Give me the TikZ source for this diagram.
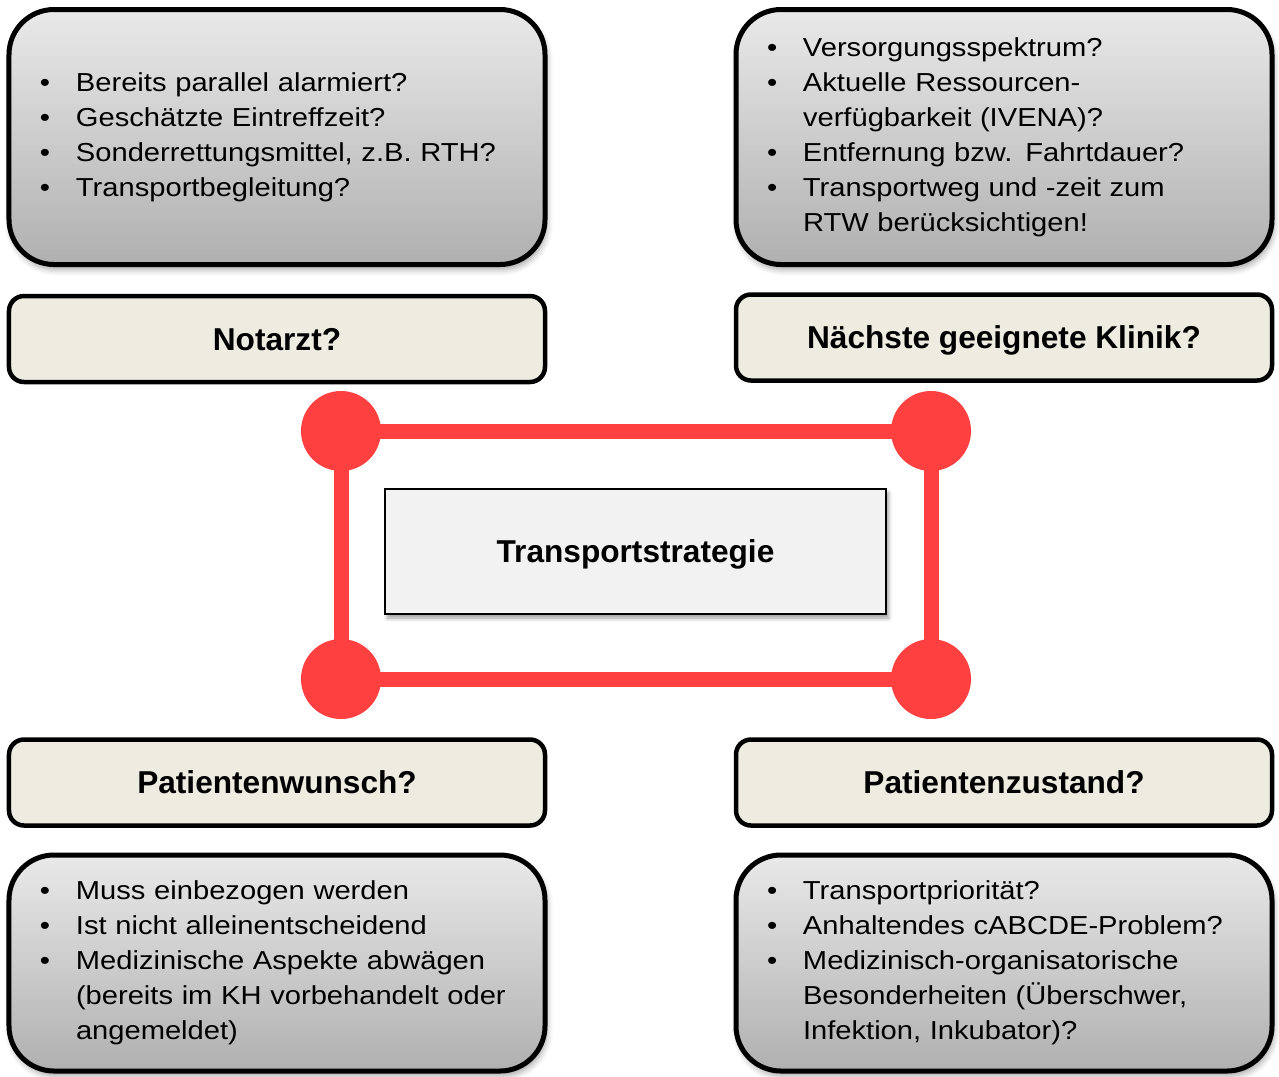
\documentclass[tikz,border=0pt]{standalone}
\usepackage{fontspec}
\setmainfont{Liberation Sans}
\newfontfamily\listfont{Liberation Sans}[FakeStretch=1.12]
\usepackage{xcolor}
\usepackage{tikz}
\usetikzlibrary{positioning,shadows.blur}
\definecolor{framered}{RGB}{255,64,64}
\definecolor{titlefill}{RGB}{238,236,225}
\definecolor{infotop}{RGB}{233,233,233}
\definecolor{infobottom}{RGB}{176,176,176}
\definecolor{corefill}{RGB}{242,242,242}
\newcommand{\bul}{\makebox[0.72cm][l]{\textbullet}}
\newcommand{\ind}{\hspace*{0.72cm}}
\tikzset{
  info box/.style={
    rectangle,
    rounded corners=0.9cm,
    draw=black,
    line width=0.1cm,
    top color=infotop,
    bottom color=infobottom,
    minimum width=10.72cm,
    text width=9.48cm,
    inner xsep=0.62cm,
    inner ysep=0pt,
    align=left,
    font=\listfont\fontsize{14.8pt}{19.9pt}\selectfont,
    blur shadow={shadow xshift=0.04cm, shadow yshift=-0.1cm, shadow blur radius=0.12cm, shadow opacity=35}
  },
  title box/.style={
    rectangle,
    rounded corners=0.3cm,
    draw=black,
    line width=0.09cm,
    fill=titlefill,
    minimum width=10.72cm,
    minimum height=1.72cm,
    text height=12.9pt,
    text depth=0pt,
    font=\bfseries\fontsize{18pt}{21pt}\selectfont
  },
  core box/.style={
    rectangle,
    draw=black,
    line width=0.04cm,
    fill=corefill,
    minimum width=10.02cm,
    minimum height=2.5cm,
    text height=12.9pt,
    text depth=0pt,
    font=\bfseries\fontsize{18pt}{21pt}\selectfont,
    blur shadow={shadow xshift=0.05cm, shadow yshift=-0.08cm, shadow blur radius=0.08cm, shadow opacity=40}
  },
  joint/.style={
    circle,
    fill=framered,
    minimum size=1.6cm,
    inner sep=0pt
  },
  frame line/.style={
    draw=framered,
    line width=0.3cm
  }
}

\begin{document}
\begin{tikzpicture}
  \useasboundingbox (0,0) rectangle (25.58,-21.52);

  % Notarzt
  \node[info box, minimum height=5.1cm] (notinfo) at (5.54,-2.74) {%
    \bul Bereits parallel alarmiert?\\
    \bul Geschätzte Eintreffzeit?\\
    \bul Sonderrettungsmittel, z.B. RTH?\\
    \bul Transportbegleitung?};
  \node[title box] (notarzt) at (5.54,-6.78) {Notarzt?};

  % Klinik
  \node[info box, minimum height=5.1cm] (klinfo) at (20.08,-2.74) {%
    \bul Versorgungsspektrum?\\
    \bul Aktuelle Ressourcen-\\
    \ind verfügbarkeit (IVENA)?\\
    \bul Entfernung bzw. Fahrtdauer?\\
    \bul Transportweg und -zeit zum\\
    \ind RTW berücksichtigen!};
  \node[title box] (klinik) at (20.08,-6.75) {Nächste geeignete Klinik?};

  % Strategie mit rotem Rahmen
  \node[joint] (nw) at (6.82,-8.62) {};
  \node[joint] (ne) at (18.62,-8.62) {};
  \node[joint] (sw) at (6.82,-13.58) {};
  \node[joint] (se) at (18.62,-13.58) {};
  \draw[frame line] (nw.center) -- (ne.center) -- (se.center) -- (sw.center) -- cycle;
  \node[core box] (strategie) at (12.71,-11.03) {Transportstrategie};

  % Patientenwunsch
  \node[title box] (wunsch) at (5.54,-15.65) {Patientenwunsch?};
  \node[info box, minimum height=4.32cm] (wunschinfo) at (5.54,-19.26) {%
    \bul Muss einbezogen werden\\
    \bul Ist nicht alleinentscheidend\\
    \bul Medizinische Aspekte abwägen\\
    \ind (bereits im KH vorbehandelt oder\\
    \ind angemeldet)};

  % Patientenzustand
  \node[title box] (zustand) at (20.08,-15.65) {Patientenzustand?};
  \node[info box, minimum height=4.32cm] (zustandinfo) at (20.08,-19.26) {%
    \bul Transportpriorität?\\
    \bul Anhaltendes cABCDE-Problem?\\
    \bul Medizinisch-organisatorische\\
    \ind Besonderheiten (Überschwer,\\
    \ind Infektion, Inkubator)?};

\end{tikzpicture}
\end{document}
